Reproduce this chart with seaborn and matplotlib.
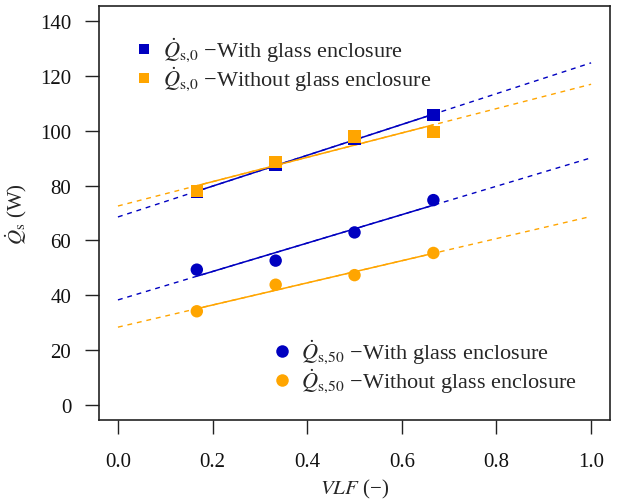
import numpy as np
import matplotlib
matplotlib.use("Agg")
import matplotlib.pyplot as plt
import seaborn as sns

# Ventilated load fraction and measured heat gains (W)
vlf = [1 / 6, 1 / 3, 1 / 2, 2 / 3]
qs0_with = [77.7, 87.5, 97.0, 105.8]
qs0_without = [78.0, 88.7, 98.0, 99.6]
qs50_with = [49.3, 52.6, 62.9, 74.7]
qs50_without = [34.1, 43.8, 47.3, 55.4]

x_ticks = [0.0, 0.2, 0.4, 0.6, 0.8, 1.0]
y_ticks = [0, 20, 40, 60, 80, 100, 120, 140]

blue = "#0000C0"
orange = "#FFA500"

sns.set_theme(style="ticks")
plt.rcParams["font.family"] = ["Liberation Serif", "DejaVu Serif"]
plt.rcParams["mathtext.fontset"] = "stix"

fig = plt.figure(figsize=(6.17, 5.02), dpi=100)
ax = fig.add_axes([0.1605, 0.1614, 0.8282, 0.8247])

series = [
    (qs0_with, blue, "s", r"$\dot{Q}_{\mathrm{s{,}0}}$ " + "\u2212With glass enclosure"),
    (qs0_without, orange, "s", r"$\dot{Q}_{\mathrm{s{,}0}}$ " + "\u2212Without glass enclosure"),
    (qs50_with, blue, "o", r"$\dot{Q}_{\mathrm{s{,}50}}$ " + "\u2212With glass enclosure"),
    (qs50_without, orange, "o", r"$\dot{Q}_{\mathrm{s{,}50}}$ " + "\u2212Without glass enclosure"),
]

x_full = np.array([0.0, 1.0])
x_data = np.array([min(vlf), max(vlf)])
handles = []
for y, color, marker, label in series:
    slope, intercept = np.polyfit(vlf, y, 1)
    ax.plot(x_full, intercept + slope * x_full, color=color, lw=1.0,
            dashes=(3.5, 3.5), zorder=2)
    ax.plot(x_data, intercept + slope * x_data, color=color, lw=1.1, zorder=3)
    sns.scatterplot(x=vlf, y=y, ax=ax, color=color, marker=marker, s=80,
                    edgecolor="none", linewidth=0, zorder=4)
    handles.append(plt.Line2D([], [], ls="none", marker=marker, color=color,
                              markersize=7.5 if marker == "s" else 9,
                              markeredgewidth=0, label=label))

leg_font = dict(size=16)
leg1 = ax.legend(handles=handles[:2], loc="upper left", bbox_to_anchor=(0.055, 0.95),
                 frameon=False, prop=leg_font, handlelength=0.7, handletextpad=0.5,
                 labelspacing=0.02, borderaxespad=0)
ax.add_artist(leg1)
ax.legend(handles=handles[2:], loc="lower left", bbox_to_anchor=(0.325, 0.04),
          frameon=False, prop=leg_font, handlelength=0.7, handletextpad=0.5,
          labelspacing=0.02, borderaxespad=0)

ax.set_xlim(-0.04, 1.04)
ax.set_ylim(-5.6, 145.6)
ax.set_xticks(x_ticks)
ax.set_xticklabels([f"{v:.1f}" for v in x_ticks])
ax.set_yticks(y_ticks)
ax.tick_params(axis="both", direction="out", length=10, width=1.0,
               color="#222222", labelsize=15, labelcolor="#111111")
ax.tick_params(axis="x", pad=13)
ax.tick_params(axis="y", pad=10)

for sp in ax.spines.values():
    sp.set_visible(True)
    sp.set_color("#222222")
    sp.set_linewidth(1.2)

ax.set_xlabel("$VLF$ (\u2212)", fontsize=15, labelpad=4)
ax.set_ylabel(r"$\dot{Q}_{\mathrm{s}}$ (W)", fontsize=15, labelpad=8)

fig.savefig("out.png", dpi=100)
